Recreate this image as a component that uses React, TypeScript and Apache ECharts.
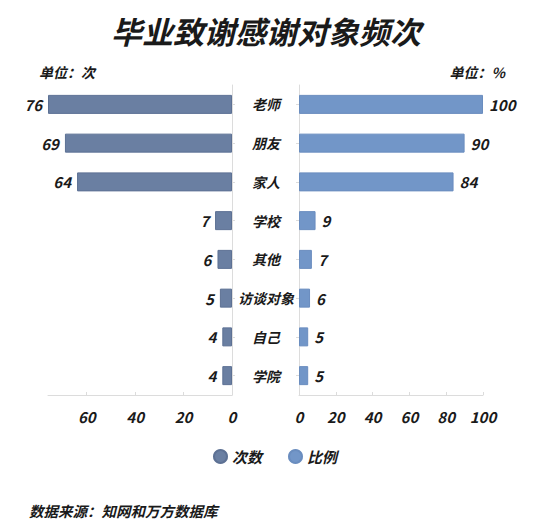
import React, { useRef, useEffect } from 'react';
import * as echarts from 'echarts';

const categories = ['老师', '朋友', '家人', '学校', '其他', '访谈对象', '自己', '学院'];
const countValues = [76, 69, 64, 7, 6, 5, 4, 4];
const ratioValues = [100, 90, 84, 9, 7, 6, 5, 5];

const FONT = '"Noto Sans CJK SC", "Noto Sans", sans-serif';
const LEFT_COLOR = '#6a7fa2';
const RIGHT_COLOR = '#7296c8';
const AXIS_COLOR = '#dcdcdc';

const App: React.FC = () => {
  const chartRef = useRef<HTMLDivElement>(null);

  useEffect(() => {
    document.body.style.margin = '0';
    if (!chartRef.current) return;
    const chart = echarts.init(chartRef.current, null, { renderer: 'svg' });

    const textBase = {
      fontFamily: FONT,
      fontWeight: 'bold' as const,
      fontStyle: 'italic' as const,
      color: '#1a1a1a',
    };

    chart.setOption({
      animation: false,
      backgroundColor: '#fff',
      title: [
        {
          text: '毕业致谢感谢对象频次',
          left: 106,
          top: 10,
          textStyle: { ...textBase, fontSize: 31 },
        },
        {
          text: '单位：次',
          left: 34,
          top: 60,
          textStyle: { ...textBase, fontSize: 14 },
        },
        {
          text: '单位：%',
          right: 40,
          top: 60,
          textStyle: { ...textBase, fontSize: 14 },
        },
        {
          text: '数据来源：知网和万方数据库',
          left: 24,
          top: 498,
          textStyle: { ...textBase, fontSize: 14.5 },
        },
      ],
      legend: {
        top: 444,
        left: 'center',
        icon: 'circle',
        itemWidth: 13,
        itemHeight: 13,
        itemGap: 26,
        textStyle: { ...textBase, fontSize: 15 },
        data: ['次数', '比例'],
      },
      grid: [
        { left: 48, top: 85, width: 184, height: 310 },
        { left: 299, top: 85, width: 184, height: 310 },
      ],
      xAxis: [
        {
          type: 'value',
          gridIndex: 0,
          inverse: true,
          min: 0,
          max: 76,
          interval: 20,
          splitLine: { show: false },
          axisLine: { show: true, lineStyle: { color: AXIS_COLOR } },
          axisTick: { show: true, inside: true, length: 3, lineStyle: { color: AXIS_COLOR } },
          axisLabel: { ...textBase, fontSize: 15, margin: 14, showMaxLabel: false },
        },
        {
          type: 'value',
          gridIndex: 1,
          min: 0,
          max: 100,
          interval: 20,
          splitLine: { show: false },
          axisLine: { show: true, lineStyle: { color: AXIS_COLOR } },
          axisTick: { show: true, inside: true, length: 3, lineStyle: { color: AXIS_COLOR } },
          axisLabel: { ...textBase, fontSize: 15, margin: 14 },
        },
      ],
      yAxis: [
        {
          type: 'category',
          gridIndex: 0,
          position: 'right',
          inverse: true,
          data: categories,
          axisLine: { show: true, lineStyle: { color: AXIS_COLOR } },
          axisTick: { show: true, alignWithLabel: true, length: 3, lineStyle: { color: AXIS_COLOR } },
          axisLabel: { ...textBase, fontSize: 14, align: 'center', margin: 34 },
        },
        {
          type: 'category',
          gridIndex: 1,
          position: 'left',
          inverse: true,
          data: categories,
          axisLine: { show: true, lineStyle: { color: AXIS_COLOR } },
          axisTick: { show: true, alignWithLabel: true, length: 3, lineStyle: { color: AXIS_COLOR } },
          axisLabel: { show: false },
        },
      ],
      series: [
        {
          name: '次数',
          type: 'bar',
          xAxisIndex: 0,
          yAxisIndex: 0,
          data: countValues,
          barWidth: 19,
          itemStyle: { color: LEFT_COLOR, borderColor: '#5d7194', borderWidth: 1 },
          label: {
            show: true,
            position: 'left',
            distance: 6,
            ...textBase,
            fontSize: 15,
          },
        },
        {
          name: '比例',
          type: 'bar',
          xAxisIndex: 1,
          yAxisIndex: 1,
          data: ratioValues,
          barWidth: 19,
          itemStyle: { color: RIGHT_COLOR, borderColor: '#6a8dbf', borderWidth: 1 },
          label: {
            show: true,
            position: 'right',
            distance: 6,
            ...textBase,
            fontSize: 15,
          },
        },
      ],
    });

    return () => {
      chart.dispose();
    };
  }, []);

  return <div ref={chartRef} style={{ width: 550, height: 529 }} />;
};

export default App;
